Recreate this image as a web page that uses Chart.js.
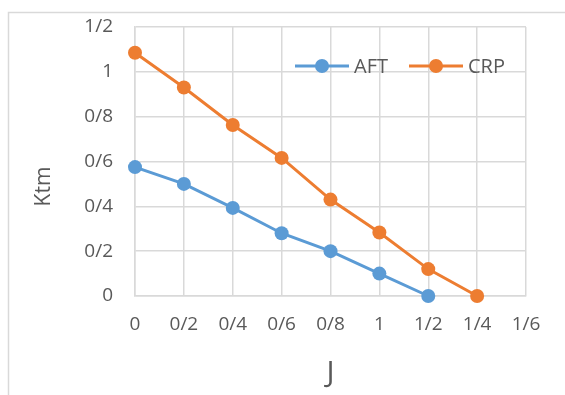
<!DOCTYPE html>
<html>
<head>
<meta charset="utf-8">
<script src="https://cdn.jsdelivr.net/npm/chart.js@4"></script>
<style>
  html, body { margin: 0; padding: 0; background: #ffffff; }
  #wrap { width: 565px; height: 395px; }
</style>
</head>
<body>
<div id="wrap"><canvas id="c" width="565" height="395"></canvas></div>
<script>
// J values along the horizontal axis
const jAFT = [0, 0.2, 0.4, 0.6, 0.8, 1.0, 1.2];
const ktmAFT = [0.575, 0.5, 0.393, 0.28, 0.2, 0.1, 0];
const jCRP = [0, 0.2, 0.4, 0.6, 0.8, 1.0, 1.2, 1.4];
const ktmCRP = [1.085, 0.93, 0.763, 0.616, 0.43, 0.283, 0.12, 0];

// Axis tick labels (slash used as decimal separator)
const xTickLabels = ['0', '0/2', '0/4', '0/6', '0/8', '1', '1/2', '1/4', '1/6'];
const yTickLabels = ['0', '0/2', '0/4', '0/6', '0/8', '1', '1/2'];

const seriesNames = ['AFT', 'CRP'];
const yTitle = 'Ktm';
const xTitle = 'J';
const BLUE = '#5B9BD5';
const ORANGE = '#ED7D31';
const GRID = '#d9d9d9';
const TEXT = '#595959';
const FONT = "'Open Sans', 'DejaVu Sans', sans-serif";

const toPoints = (xs, ys) => xs.map((x, i) => ({ x: x, y: ys[i] }));

// Light frame around the chart, plus the vertical axis title
const framePlugin = {
  id: 'frame',
  beforeDraw(chart) {
    const ctx = chart.ctx;
    const area = chart.chartArea;
    ctx.save();
    ctx.strokeStyle = GRID;
    ctx.lineWidth = 1.5;
    ctx.beginPath();
    ctx.moveTo(8.5, chart.height);
    ctx.lineTo(8.5, 12.5);
    ctx.lineTo(chart.width, 12.5);
    ctx.stroke();

    ctx.translate(44, (area.top + area.bottom) / 2 + 25);
    ctx.rotate(-Math.PI / 2);
    ctx.font = '21px ' + FONT;
    ctx.fillStyle = TEXT;
    ctx.textAlign = 'center';
    ctx.textBaseline = 'middle';
    ctx.fillText(yTitle, 0, 0);
    ctx.restore();
  }
};

// Legend drawn inside the plot, near the top right
const innerLegend = {
  id: 'innerLegend',
  afterDraw(chart) {
    const ctx = chart.ctx;
    const area = chart.chartArea;
    const y = area.top + 39;
    let x = area.left + 160;
    ctx.save();
    ctx.font = '20px ' + FONT;
    ctx.textBaseline = 'middle';
    chart.data.datasets.forEach(ds => {
      ctx.strokeStyle = ds.borderColor;
      ctx.lineWidth = 3;
      ctx.beginPath();
      ctx.moveTo(x, y);
      ctx.lineTo(x + 54, y);
      ctx.stroke();
      ctx.fillStyle = ds.borderColor;
      ctx.beginPath();
      ctx.arc(x + 27, y, 7, 0, Math.PI * 2);
      ctx.fill();
      ctx.fillStyle = TEXT;
      ctx.fillText(ds.label, x + 59, y + 1);
      x += 114;
    });
    ctx.restore();
  }
};

new Chart(document.getElementById('c'), {
  type: 'line',
  data: {
    datasets: [
      {
        label: seriesNames[0],
        data: toPoints(jAFT, ktmAFT),
        borderColor: BLUE,
        backgroundColor: BLUE,
        borderWidth: 3,
        pointRadius: 7,
        pointHoverRadius: 7,
        pointBorderWidth: 0,
        clip: false
      },
      {
        label: seriesNames[1],
        data: toPoints(jCRP, ktmCRP),
        borderColor: ORANGE,
        backgroundColor: ORANGE,
        borderWidth: 3,
        pointRadius: 7,
        pointHoverRadius: 7,
        pointBorderWidth: 0,
        clip: false
      }
    ]
  },
  options: {
    responsive: false,
    animation: false,
    devicePixelRatio: 1,
    layout: { padding: { left: 0, top: 27, right: 39, bottom: 0 } },
    plugins: {
      legend: { display: false },
      tooltip: { enabled: false }
    },
    scales: {
      x: {
        type: 'linear',
        min: 0,
        max: 1.6,
        afterFit(scale) { scale.height = 99; },
        afterBuildTicks(scale) {
          scale.ticks = xTickLabels.map((_, i) => ({ value: i * 0.2 }));
        },
        ticks: {
          autoSkip: false,
          maxRotation: 0,
          padding: 17,
          color: TEXT,
          font: { family: FONT, size: 19 },
          callback: (v, i) => xTickLabels[i]
        },
        grid: { color: GRID, lineWidth: 1.5, drawTicks: false },
        border: { color: GRID, width: 1.5 },
        title: {
          display: true,
          text: xTitle,
          color: TEXT,
          font: { family: FONT, size: 30 },
          padding: { top: 0, bottom: 4 }
        }
      },
      y: {
        type: 'linear',
        min: 0,
        max: 1.2,
        afterFit(scale) {
          scale.width = 135;
          scale.paddingTop = 0;
          scale.paddingBottom = 0;
        },
        afterBuildTicks(scale) {
          scale.ticks = yTickLabels.map((_, i) => ({ value: i * 0.2 }));
        },
        ticks: {
          autoSkip: false,
          padding: 22,
          color: TEXT,
          font: { family: FONT, size: 19 },
          callback: (v, i) => yTickLabels[i]
        },
        grid: { color: GRID, lineWidth: 1.5, drawTicks: false },
        border: { color: GRID, width: 1.5 }
      }
    }
  },
  plugins: [framePlugin, innerLegend]
});
</script>
</body>
</html>
